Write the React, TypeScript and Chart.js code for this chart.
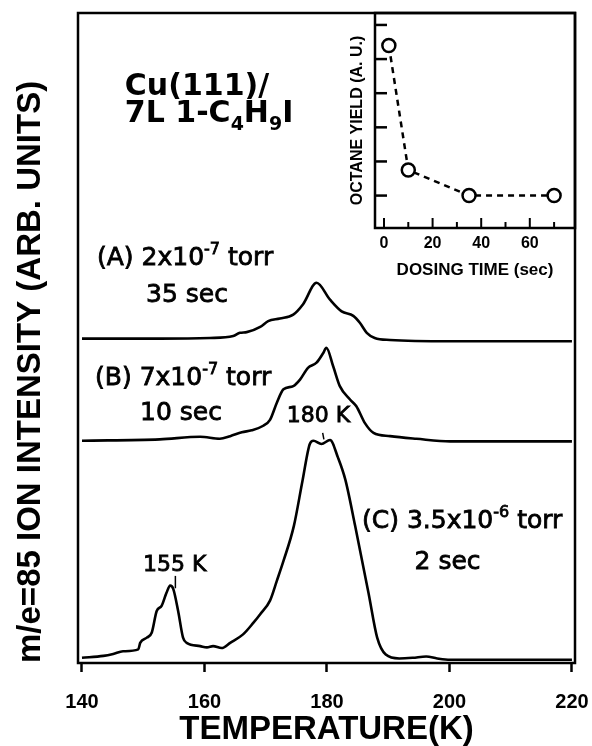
import React, { useEffect, useRef } from 'react';
import { Chart, registerables } from 'chart.js';

Chart.register(...registerables);

// ---- Main TPD traces (temperature in K, intensity in arbitrary units 0-100) ----
const temperatureA = [140.0, 152.7, 160.9, 164.7, 165.8, 166.9, 169.1, 170.4, 172.3, 174.5, 176.1, 178.3, 180.5, 182.4, 184.3, 185.4, 186.5, 187.8, 190.3, 200.1, 220.0];
const intensityA = [49.9, 49.9, 50.0, 50.3, 50.8, 50.9, 51.7, 52.6, 53.0, 53.6, 55.2, 58.5, 55.9, 54.1, 53.4, 52.3, 50.8, 50.0, 49.7, 49.5, 49.5];

const temperatureB = [140.0, 152.7, 159.3, 162.5, 164.2, 166.1, 167.7, 169.6, 170.7, 171.8, 172.9, 174.5, 175.6, 176.9, 178.3, 179.4, 179.9, 181.0, 182.1, 183.8, 184.8, 186.2, 187.6, 190.3, 194.6, 200.1, 220.0];
const intensityB = [34.2, 34.4, 34.8, 34.5, 34.9, 35.5, 35.8, 36.5, 37.4, 40.0, 42.1, 42.6, 43.6, 45.4, 46.2, 47.7, 48.5, 45.7, 42.6, 40.5, 39.5, 36.9, 35.4, 34.9, 34.5, 34.1, 34.1];

const temperatureC = [140.0, 143.5, 145.1, 146.7, 149.2, 149.5, 150.6, 151.4, 152.2, 153.0, 153.8, 154.4, 154.9, 155.7, 156.5, 157.1, 159.3, 160.4, 161.4, 162.8, 164.2, 166.3, 168.0, 169.1, 170.7, 171.8, 172.9, 174.6, 176.0, 177.2, 177.8, 179.1, 180.5, 181.8, 183.0, 184.6, 186.8, 188.2, 189.6, 191.8, 194.0, 196.2, 198.0, 200.1, 208.4, 220.0];
const intensityC = [0.8, 1.1, 1.4, 1.8, 2.1, 3.1, 3.9, 4.7, 8.0, 8.8, 10.8, 11.9, 11.4, 8.0, 3.9, 3.1, 2.6, 2.4, 2.6, 2.3, 3.1, 4.4, 6.2, 7.5, 9.6, 12.6, 15.7, 21.1, 28.0, 33.7, 34.2, 33.7, 34.3, 31.6, 28.2, 21.1, 10.7, 3.9, 1.3, 0.7, 0.8, 1.0, 0.7, 0.5, 0.5, 0.5];

const temperatureTicks = [140, 160, 180, 200, 220];

// ---- Inset: octane yield vs dosing time ----
const dosingTime = [2, 10, 35, 70];
const octaneYield = [4.4, 0.75, 0.0, 0.0];
const dosingTicks = [0, 10, 20, 30, 40, 50, 60, 70];
const yieldTicks = [0, 1, 2, 3, 4, 5];

// ---- Text annotations (anchored in data coordinates) ----
type Part = { t: string; k?: 'sup' | 'sub' };
type Note = { x: number; y: number; size: number; bold?: boolean; parts: Part[] };

const notes: Note[] = [
  { x: 147.0, y: 87.4, size: 30, bold: true, parts: [{ t: 'Cu(111)/' }] },
  { x: 147.0, y: 83.2, size: 30, bold: true, parts: [{ t: '7L 1-C' }, { t: '4', k: 'sub' }, { t: 'H' }, { t: '9', k: 'sub' }, { t: 'I' }] },
  { x: 142.45, y: 61.2, size: 25, parts: [{ t: '(A) 2x10' }, { t: '-7', k: 'sup' }, { t: ' torr' }] },
  { x: 150.45, y: 55.5, size: 25, parts: [{ t: '35 sec' }] },
  { x: 142.13, y: 42.8, size: 25, parts: [{ t: '(B) 7x10' }, { t: '-7', k: 'sup' }, { t: ' torr' }] },
  { x: 149.47, y: 37.4, size: 25, parts: [{ t: '10 sec' }] },
  { x: 173.42, y: 37.1, size: 22, parts: [{ t: '180 K' }] },
  { x: 185.72, y: 20.8, size: 25, parts: [{ t: '(C) 3.5x10' }, { t: '-6', k: 'sup' }, { t: ' torr' }] },
  { x: 194.3, y: 14.5, size: 25, parts: [{ t: '2 sec' }] },
  { x: 149.96, y: 14.2, size: 22, parts: [{ t: '155 K' }] },
];

const markers = [
  { x1: 155.25, y1: 13.4, x2: 155.25, y2: 11.5 },
  { x1: 179.3, y1: 35.4, x2: 179.5, y2: 34.4 },
];

const SANS = '"Liberation Sans", Arial, sans-serif';
const DEJAVU = '"DejaVu Sans", sans-serif';

function toPoints(xs: number[], ys: number[]) {
  return xs.map((x, i) => ({ x, y: ys[i] }));
}

function drawParts(ctx: CanvasRenderingContext2D, x: number, y: number, parts: Part[], size: number, bold?: boolean) {
  let cx = x;
  for (const p of parts) {
    const s = p.k ? Math.round(size * 0.62) : size;
    ctx.font = `${bold ? 'bold ' : ''}${s}px ${DEJAVU}`;
    const dy = p.k === 'sup' ? -size * 0.45 : p.k === 'sub' ? size * 0.25 : 0;
    ctx.fillText(p.t, cx, y + dy);
    if (!bold) {
      ctx.lineWidth = 0.8;
      ctx.strokeText(p.t, cx, y + dy);
    }
    cx += ctx.measureText(p.t).width;
  }
}

const mainDecor = {
  id: 'mainDecor',
  beforeDatasetsDraw(chart: any) {
    const { ctx, chartArea } = chart;
    ctx.save();
    ctx.strokeStyle = '#000';
    ctx.lineWidth = 2.5;
    ctx.strokeRect(chartArea.left, chartArea.top, chartArea.right - chartArea.left, chartArea.bottom - chartArea.top);
    ctx.restore();
  },
  afterDraw(chart: any) {
    const { ctx } = chart;
    const xs = chart.scales.x;
    const ys = chart.scales.y;
    ctx.save();
    ctx.fillStyle = '#000';
    ctx.strokeStyle = '#000';
    ctx.textAlign = 'left';
    ctx.textBaseline = 'alphabetic';
    for (const n of notes) {
      drawParts(ctx, xs.getPixelForValue(n.x), ys.getPixelForValue(n.y), n.parts, n.size, n.bold);
    }
    ctx.lineWidth = 1.5;
    for (const m of markers) {
      ctx.beginPath();
      ctx.moveTo(xs.getPixelForValue(m.x1), ys.getPixelForValue(m.y1));
      ctx.lineTo(xs.getPixelForValue(m.x2), ys.getPixelForValue(m.y2));
      ctx.stroke();
    }
    ctx.restore();
  },
};

const insetDecor = {
  id: 'insetDecor',
  beforeDatasetsDraw(chart: any) {
    const { ctx, chartArea } = chart;
    const xs = chart.scales.x;
    const ys = chart.scales.y;
    ctx.save();
    ctx.strokeStyle = '#000';
    ctx.lineWidth = 2.5;
    ctx.strokeRect(chartArea.left, chartArea.top, chartArea.right - chartArea.left, chartArea.bottom - chartArea.top);
    ctx.lineWidth = 2;
    for (const v of dosingTicks) {
      const px = xs.getPixelForValue(v);
      const len = v % 20 === 0 ? 10 : 6;
      ctx.beginPath();
      ctx.moveTo(px, chartArea.bottom);
      ctx.lineTo(px, chartArea.bottom - len);
      ctx.stroke();
    }
    ctx.lineWidth = 2.5;
    for (const v of yieldTicks) {
      const py = ys.getPixelForValue(v);
      ctx.beginPath();
      ctx.moveTo(chartArea.left, py);
      ctx.lineTo(chartArea.left + 12, py);
      ctx.stroke();
    }
    ctx.restore();
  },
};

export default function App() {
  const mainRef = useRef<HTMLCanvasElement>(null);
  const insetRef = useRef<HTMLCanvasElement>(null);

  useEffect(() => {
    const lineStyle = { borderColor: '#000', borderWidth: 2.6, pointRadius: 0, cubicInterpolationMode: 'monotone', fill: false };
    const main = new Chart(mainRef.current as HTMLCanvasElement, {
      type: 'line',
      data: {
        datasets: [
          { label: 'A', data: toPoints(temperatureA, intensityA), ...lineStyle },
          { label: 'B', data: toPoints(temperatureB, intensityB), ...lineStyle },
          { label: 'C', data: toPoints(temperatureC, intensityC), ...lineStyle },
        ],
      },
      options: {
        responsive: false,
        animation: false,
        devicePixelRatio: 1,
        layout: { padding: { top: 13, right: 17, left: 0, bottom: 0 } },
        plugins: { legend: { display: false }, tooltip: { enabled: false } },
        scales: {
          x: {
            type: 'linear',
            position: 'bottom',
            min: 139.35,
            max: 220.5,
            afterBuildTicks: (s: any) => { s.ticks = temperatureTicks.map((v) => ({ value: v })); },
            afterFit: (s: any) => { s.height = 83; s.paddingLeft = 0; s.paddingRight = 0; },
            ticks: {
              color: '#000',
              font: { family: SANS, weight: 'bold', size: 20 },
              padding: 18,
              maxRotation: 0,
              autoSkip: false,
            },
            grid: { drawOnChartArea: false, drawTicks: true, tickLength: 9, tickWidth: 2.5, tickColor: '#000', color: '#000' },
            border: { display: false },
            title: {
              display: true,
              text: 'TEMPERATURE(K)',
              color: '#000',
              font: { family: SANS, weight: 'bold', size: 33, lineHeight: 1 },
              padding: { top: 0, bottom: 0 },
            },
          },
          y: {
            type: 'linear',
            min: 0,
            max: 100,
            afterFit: (s: any) => { s.width = 78; s.paddingTop = 0; s.paddingBottom = 0; },
            ticks: { display: false },
            grid: { display: false, drawTicks: false },
            border: { display: false },
            title: {
              display: true,
              text: 'm/e=85 ION INTENSITY (ARB. UNITS)',
              align: 'start',
              color: '#000',
              font: { family: SANS, weight: 'bold', size: 33, lineHeight: 1 },
              padding: { top: 14, bottom: 0 },
            },
          },
        },
      } as any,
      plugins: [mainDecor],
    });

    const inset = new Chart(insetRef.current as HTMLCanvasElement, {
      type: 'line',
      data: {
        datasets: [
          {
            label: 'octane',
            data: toPoints(dosingTime, octaneYield),
            borderColor: '#000',
            borderWidth: 2.5,
            borderDash: [6, 5],
            pointRadius: 6.5,
            pointBorderWidth: 2.5,
            pointBorderColor: '#000',
            pointBackgroundColor: '#fff',
            tension: 0,
            fill: false,
          },
        ],
      },
      options: {
        responsive: false,
        animation: false,
        devicePixelRatio: 1,
        layout: { padding: { top: 13, right: 17, left: 0, bottom: 0 } },
        plugins: { legend: { display: false }, tooltip: { enabled: false } },
        scales: {
          x: {
            type: 'linear',
            min: -3.7,
            max: 78.6,
            afterBuildTicks: (s: any) => { s.ticks = dosingTicks.map((v) => ({ value: v })); },
            afterFit: (s: any) => { s.height = 62; s.paddingLeft = 0; s.paddingRight = 0; },
            ticks: {
              color: '#000',
              font: { family: SANS, weight: 'bold', size: 16 },
              padding: 6,
              maxRotation: 0,
              autoSkip: false,
              callback: (v: any) => (Number(v) % 20 === 0 ? String(v) : ''),
            },
            grid: { display: false, drawTicks: false },
            border: { display: false },
            title: {
              display: true,
              text: 'DOSING TIME (sec)',
              color: '#000',
              font: { family: SANS, weight: 'bold', size: 17, lineHeight: 1 },
              padding: { top: 0, bottom: 11 },
            },
          },
          y: {
            type: 'linear',
            min: -0.95,
            max: 5.35,
            afterBuildTicks: (s: any) => { s.ticks = yieldTicks.map((v) => ({ value: v })); },
            afterFit: (s: any) => { s.width = 45; s.paddingTop = 0; s.paddingBottom = 0; },
            ticks: { display: false },
            grid: { display: false, drawTicks: false },
            border: { display: false },
            title: {
              display: true,
              text: 'OCTANE YIELD (A. U.)',
              color: '#000',
              font: { family: SANS, weight: 'bold', size: 16, lineHeight: 1 },
              padding: { top: 20, bottom: 0 },
            },
          },
        },
      } as any,
      plugins: [insetDecor],
    });

    return () => {
      main.destroy();
      inset.destroy();
    };
  }, []);

  return (
    <div style={{ position: 'absolute', left: 0, top: 0, width: 592, height: 746, background: '#fff' }}>
      <canvas ref={mainRef} width={592} height={746} style={{ position: 'absolute', left: 0, top: 0 }} />
      <canvas ref={insetRef} width={262} height={290} style={{ position: 'absolute', left: 330, top: 0 }} />
    </div>
  );
}
